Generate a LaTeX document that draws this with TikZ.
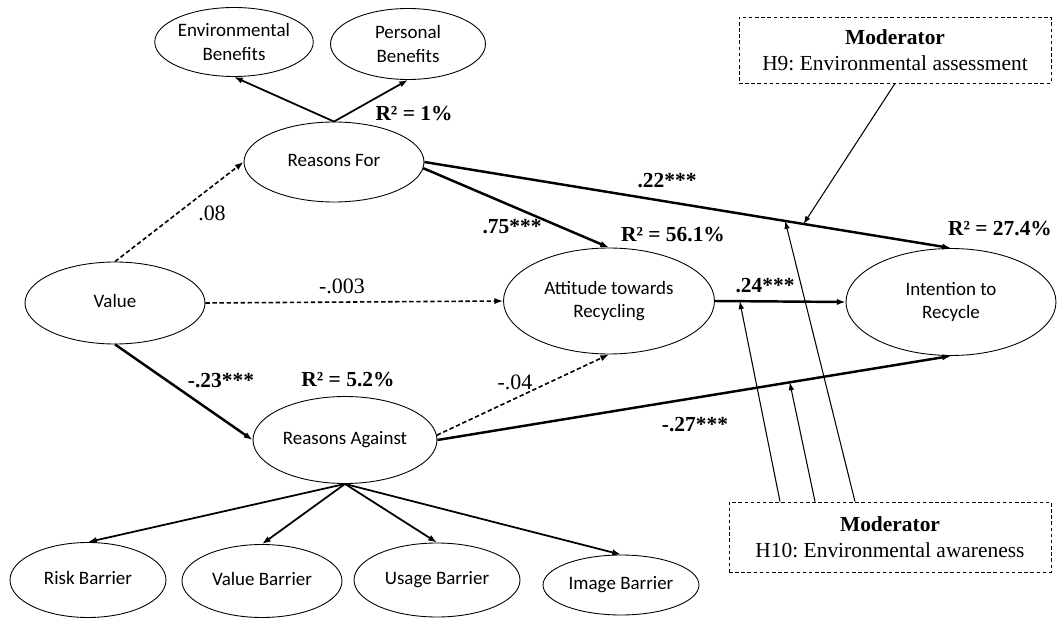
\documentclass[tikz,border=0pt]{standalone}
\usepackage{fontspec}
\setmainfont{Liberation Serif}
\newfontfamily\calibrifont{Carlito}
\usetikzlibrary{arrows.meta,calc,shapes.geometric}
\frenchspacing
\tikzset{
	construct/.style={draw, line width=0.5pt, ellipse, inner sep=0pt, align=center, font=\calibrifont\fontsize{10.8}{13.5}\selectfont},
	oneline/.style={execute at begin node=\strut},
	modbox/.style={draw, line width=0.5pt, dash pattern=on 2pt off 1.5pt, inner sep=0pt, align=center, font=\fontsize{12.2}{14.7}\selectfont},
	sigpath/.style={-{Latex[length=5pt,width=3.6pt]}, line width=1.4pt},
	nspath/.style={-{Latex[length=5pt,width=3.6pt]}, line width=0.9pt, dash pattern=on 2.5pt off 1.5pt},
	loading/.style={-{Latex[length=5pt,width=3.6pt]}, line width=1pt},
	modline/.style={-{Latex[length=4.5pt,width=3.2pt]}, line width=0.6pt},
	coef/.style={font=\fontsize{12.5}{14}\selectfont},
	sigcoef/.style={font=\bfseries\fontsize{12.2}{14}\selectfont}
}

\begin{document}
\begin{tikzpicture}[x=0.02cm, y=-0.02cm]
		%%%%% START %%%%%
		\useasboundingbox (0, 0) rectangle (1061, 621);
		
		\node[construct, minimum width=3.16cm, minimum height=1.38cm] (env) at (234, 42) {Environmental\\Benefits};
		\node[construct, minimum width=3.1cm, minimum height=1.42cm] (pb) at (408, 44) {Personal\\Benefits};
		\node[construct, oneline, minimum width=3.6cm, minimum height=1.6cm] (rf) at (334, 162) {Reasons For};
		\node[construct, oneline, minimum width=3.6cm, minimum height=1.64cm] (val) at (115, 303) {Value};
		\node[construct, minimum width=4.22cm, minimum height=2.12cm] (att) at (609, 301) {Attitude towards\\Recycling};
		\node[construct, minimum width=4.2cm, minimum height=2.14cm] (int) at (951, 302) {Intention to\\Recycle};
		\node[construct, oneline, minimum width=3.68cm, minimum height=1.74cm] (ra) at (345, 440) {Reasons Against};
		
		\node[construct, oneline, minimum width=3.12cm, minimum height=1.5cm] (risk) at (88, 580) {Risk Barrier};
		\node[construct, oneline, minimum width=3.2cm, minimum height=1.46cm] (vb) at (262, 581) {Value Barrier};
		\node[construct, oneline, minimum width=3.32cm, minimum height=1.48cm] (ub) at (437, 580) {Usage Barrier};
		\node[construct, oneline, minimum width=3.12cm, minimum height=1.2cm] (ib) at (621, 585) {Image Barrier};
		
		\node[modbox, minimum width=6.24cm, minimum height=1.32cm] (h9) at (895, 50) {\textbf{Moderator}\\H9: Environmental assessment};
		\node[modbox, minimum width=6.44cm, minimum height=1.4cm] (h10) at (890, 537) {\textbf{Moderator}\\H10: Environmental awareness};
		
		% first order loadings
		\draw[loading] (rf.north) -- (env.south);
		\draw[loading] (rf.north) -- (pb.south);
		\draw[loading] (ra.south) -- (risk.north);
		\draw[loading] (ra.south) -- (vb.north);
		\draw[loading] (ra.south) -- (ub.north);
		\draw[loading] (ra.south) -- (ib.north);
		
		% structural paths
		\draw[nspath] (val.north) -- (rf.west);
		\draw[nspath] (val.east) -- (att.west);
		\draw[sigpath] (val.south) -- (ra.west);
		\draw[sigpath] (rf.-4) -- (att.north);
		\draw[sigpath] (rf.east) -- (int.north);
		\draw[nspath] (ra.3) -- (att.south);
		\draw[sigpath] (ra.east) -- (int.south);
		\draw[sigpath] (att.east) -- (int.west);
		
		% moderating effects
		\coordinate (m22) at ($(rf.east)!0.72!(int.north)$);
		\coordinate (m22b) at ($(rf.east)!0.685!(int.north)$);
		\coordinate (m24) at ($(att.east)!0.19!(int.west)$);
		\coordinate (m27) at ($(ra.east)!0.686!(int.south)$);
		\draw[modline] (h9.south) -- (m22);
		\draw[modline] ($(h10.north)+(-110, 0)$) -- (m24);
		\draw[modline] ($(h10.north)+(-75, 0)$) -- (m27);
		\draw[modline] ($(h10.north)+(-35, 0)$) -- (m22b);
		
		% coefficients
		\node[coef] (c08) at (212, 213) {.08};
		\node[coef] (c003) at (342, 286) {-.003};
		\node[coef] (c04) at (515, 382) {-.04};
		\node[sigcoef] (c75) at (512, 227) {.75***};
		\node[sigcoef] (c22) at (667, 181) {.22***};
		\node[sigcoef] (c24) at (765, 286) {.24***};
		\node[sigcoef] (c23) at (221, 381) {-.23***};
		\node[sigcoef] (c27) at (695, 425) {-.27***};
		
		% explained variance
		\node[sigcoef] (r2rf) at (414, 114) {R² = 1\%};
		\node[sigcoef] (r2att) at (673, 235) {R² = 56.1\%};
		\node[sigcoef] (r2int) at (1000, 229) {R² = 27.4\%};
		\node[sigcoef] (r2ra) at (348, 380) {R² = 5.2\%};
		
		%%%%% END %%%%%
	\end{tikzpicture}
\end{document}
